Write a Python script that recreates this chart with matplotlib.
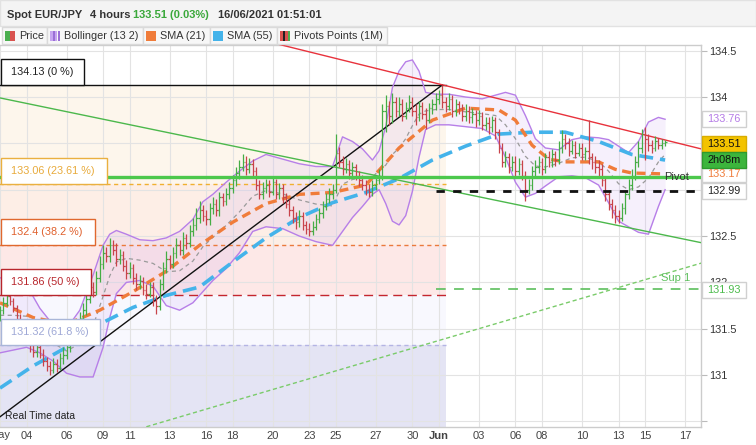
import matplotlib
matplotlib.use("Agg")
import matplotlib.pyplot as plt
import numpy as np
import pandas as pd
from matplotlib.patches import Rectangle

plt.rcParams['font.family'] = ['Liberation Sans', 'DejaVu Sans']
plt.rcParams['lines.scale_dashes'] = False

# ---------------- data (4-hour candles, EUR/JPY) ----------------
first_open = 131.62
close = [
    131.70,131.78,131.85,131.80,131.72,131.60,131.55,131.48,131.40,131.32,
    131.25,131.30,131.22,131.15,131.10,131.05,131.12,131.08,131.18,131.22,
    131.30,131.42,131.38,131.50,131.62,131.70,131.82,131.95,131.90,132.05,
    132.20,132.32,132.28,132.40,132.35,132.25,132.30,132.18,132.10,132.15,
    132.05,131.98,132.02,131.92,131.88,131.95,131.80,131.75,131.98,132.15,
    132.25,132.20,132.32,132.40,132.35,132.48,132.42,132.55,132.62,132.70,
    132.78,132.72,132.68,132.80,132.85,132.78,132.92,132.88,132.95,133.02,
    133.10,133.18,133.25,133.30,133.22,133.28,133.20,133.05,132.95,133.02,
    133.05,132.98,133.08,132.95,133.02,132.92,132.85,132.78,132.70,132.65,
    132.72,132.62,132.58,132.55,132.60,132.68,132.75,132.82,132.90,132.95,
    133.00,133.40,133.30,133.22,133.28,133.18,133.25,133.15,133.10,133.05,
    133.00,132.98,133.05,133.10,133.15,133.85,133.90,133.80,133.95,133.85,
    133.92,133.80,133.88,133.95,133.85,133.78,133.90,133.82,133.75,133.88,
    133.92,133.98,134.02,133.95,133.90,133.98,133.85,133.92,133.88,133.80,
    133.85,133.78,133.82,133.75,133.80,133.70,133.72,133.68,133.75,133.62,
    133.45,133.30,133.35,133.25,133.30,133.20,133.28,133.15,133.00,133.05,
    133.20,133.25,133.30,133.22,133.35,133.30,133.38,133.32,133.45,133.55,
    133.50,133.42,133.48,133.40,133.45,133.38,133.42,133.35,133.30,133.25,
    133.22,133.10,132.95,132.85,132.78,132.72,132.70,132.80,132.95,133.05,
    133.15,133.30,133.45,133.60,133.55,133.48,133.45,133.52,133.48,133.50,
    133.51]
high = [
    131.75,131.84,131.92,131.90,131.83,131.76,131.66,131.60,131.52,131.44,
    131.38,131.36,131.34,131.28,131.20,131.15,131.18,131.17,131.24,131.30,
    131.36,131.48,131.46,131.56,131.68,131.78,131.88,132.02,132.00,132.12,
    132.28,132.40,132.38,132.48,132.46,132.42,132.36,132.34,132.24,132.22,
    132.20,132.10,132.08,132.06,131.98,132.00,132.00,131.86,132.04,132.22,
    132.34,132.30,132.38,132.48,132.46,132.54,132.52,132.62,132.70,132.80,
    132.88,132.84,132.78,132.86,132.92,132.90,132.98,132.96,133.02,133.08,
    133.16,133.25,133.32,133.38,133.36,133.34,133.33,133.25,133.10,133.08,
    133.12,133.10,133.14,133.12,133.07,133.06,132.96,132.90,132.82,132.76,
    132.78,132.76,132.66,132.64,132.66,132.74,132.80,132.88,132.96,133.02,
    133.06,133.60,133.46,133.36,133.34,133.32,133.30,133.28,133.20,133.16,
    133.10,133.06,133.10,133.16,133.22,133.92,134.02,133.96,134.04,134.00,
    134.00,133.98,133.95,134.02,134.00,133.92,133.96,133.95,133.88,133.94,
    133.98,134.04,134.08,134.13,134.00,134.04,134.02,133.98,133.96,133.92,
    133.92,133.90,133.88,133.86,133.86,133.84,133.78,133.78,133.80,133.78,
    133.66,133.50,133.42,133.40,133.36,133.36,133.34,133.32,133.20,133.12,
    133.26,133.32,133.36,133.34,133.40,133.42,133.44,133.42,133.52,133.64,
    133.60,133.56,133.54,133.52,133.50,133.50,133.46,133.75,133.40,133.36,
    133.32,133.28,133.14,133.00,132.90,132.84,132.78,132.86,133.00,133.12,
    133.22,133.36,133.52,133.66,133.68,133.60,133.54,133.58,133.56,133.55,
    133.54]
low = [
    131.58,131.66,131.74,131.76,131.68,131.55,131.50,131.42,131.33,131.25,
    131.20,131.20,131.18,131.10,131.04,131.00,131.02,131.03,131.05,131.12,
    131.17,131.25,131.32,131.33,131.45,131.56,131.65,131.78,131.84,131.86,
    132.00,132.14,132.22,132.22,132.30,132.18,132.20,132.12,132.04,132.05,
    131.98,131.92,131.93,131.86,131.82,131.84,131.74,131.66,131.70,131.92,
    132.10,132.14,132.15,132.26,132.30,132.30,132.36,132.38,132.50,132.56,
    132.64,132.66,132.62,132.62,132.74,132.72,132.72,132.82,132.84,132.90,
    132.96,133.04,133.12,133.20,133.16,133.18,133.14,133.00,132.90,132.90,
    132.96,132.92,132.94,132.90,132.90,132.86,132.80,132.72,132.64,132.58,
    132.60,132.56,132.52,132.50,132.51,132.56,132.64,132.70,132.78,132.86,
    132.90,132.96,133.24,133.16,133.18,133.12,133.14,133.10,133.04,133.00,
    132.94,132.92,132.93,133.00,133.06,133.10,133.62,133.70,133.72,133.78,
    133.80,133.74,133.76,133.84,133.80,133.70,133.74,133.76,133.66,133.72,
    133.82,133.86,133.92,133.88,133.84,133.86,133.78,133.80,133.82,133.74,
    133.74,133.72,133.72,133.68,133.70,133.64,133.64,133.60,133.62,133.55,
    133.40,133.25,133.24,133.18,133.20,133.14,133.16,133.10,132.88,132.95,
    133.00,133.14,133.18,133.16,133.18,133.24,133.24,133.26,133.28,133.40,
    133.44,133.36,133.38,133.34,133.36,133.32,133.32,133.28,133.22,133.18,
    133.14,133.04,132.88,132.78,132.70,132.64,132.64,132.66,132.74,132.90,
    133.00,133.10,133.24,133.40,133.32,133.42,133.40,133.42,133.44,133.44,
    133.47]

# Bollinger (13, 2) read at candle indices
bb_idx = [0, 4, 8, 12, 16, 20, 24, 28, 31, 33, 35, 38, 42, 46, 50, 54, 58, 61, 64, 68,
          72, 76, 80, 85, 90, 95, 100, 103, 106, 109, 112, 114, 116, 118, 120, 122, 124,
          126, 128, 131, 135, 140, 145, 149, 152, 155, 158, 161, 164, 168, 172, 176, 180,
          183, 186, 189, 192, 195, 198, 200]
bb_upper = [132.05, 132.02, 131.97, 131.72, 131.54, 131.50, 131.70, 132.08, 132.40, 132.52,
            132.56, 132.52, 132.46, 132.45, 132.48, 132.55, 132.68, 132.87, 132.95, 133.08,
            133.20, 133.31, 133.38, 133.33, 133.28, 133.25, 133.25, 133.57, 133.52, 133.44,
            133.32, 133.42, 133.68, 134.10, 134.28, 134.38, 134.40, 134.28, 134.05, 134.03,
            134.03, 134.00, 133.98, 134.02, 134.05, 134.02, 133.80, 133.55, 133.45, 133.43,
            133.54, 133.57, 133.56, 133.54, 133.47, 133.40, 133.52, 133.73, 133.78, 133.76]
bb_lower = [131.24, 131.27, 131.30, 131.24, 131.15, 131.02, 130.98, 130.98, 131.30, 131.62,
            131.88, 132.00, 132.02, 131.96, 131.75, 131.70, 131.78, 131.90, 132.02, 132.15,
            132.32, 132.55, 132.60, 132.58, 132.50, 132.44, 132.40, 132.55, 132.70, 132.82,
            132.95, 133.00, 132.85, 132.66, 132.62, 132.72, 132.98, 133.35, 133.65, 133.70,
            133.70, 133.68, 133.66, 133.58, 133.35, 133.08, 132.92, 132.96, 133.04, 133.14,
            133.15, 133.13, 133.05, 132.86, 132.66, 132.60, 132.54, 132.52, 132.82, 133.00]

sma21_idx = [0, 10, 20, 30, 40, 50, 60, 70, 80, 90, 100, 110, 120, 130, 140, 150, 155, 160,
             165, 170, 180, 185, 190, 200]
sma21 = [131.78, 131.62, 131.55, 131.70, 131.90, 132.12, 132.40, 132.65, 132.85, 132.95,
         132.97, 133.05, 133.45, 133.75, 133.88, 133.86, 133.75, 133.48, 133.33, 133.30,
         133.30, 133.22, 133.18, 133.17]
sma55_idx = [0, 10, 20, 30, 40, 50, 60, 70, 80, 90, 100, 110, 120, 130, 140, 150, 160, 170,
             180, 190, 200]
sma55 = [130.86, 131.10, 131.30, 131.55, 131.73, 131.86, 131.95, 132.22, 132.48, 132.70,
         132.86, 132.97, 133.12, 133.32, 133.47, 133.60, 133.62, 133.62, 133.52, 133.38, 133.32]

fib_levels = [134.13, 133.06, 132.40, 131.86, 131.32]
fib_labels = ['134.13 (0 %)', '133.06 (23.61 %)', '132.4 (38.2 %)', '131.86 (50 %)', '131.32 (61.8 %)']
fib_end_idx = 134
pivot_level = 133.14
black_level = 132.99
sup1_level = 131.93
pivot_start_idx = 131

trend_up_idx, trend_up_val = [0, 133], [130.55, 134.13]
resist_idx, resist_val = [60, 212], [134.78, 133.43]
channel_idx, channel_val = [0, 212], [133.99, 132.42]
support_idx, support_val = [40, 212], [130.40, 132.22]

tick_dates = ['2021-05-02', '2021-05-04', '2021-05-06', '2021-05-09', '2021-05-11', '2021-05-13',
              '2021-05-16', '2021-05-18', '2021-05-20', '2021-05-23', '2021-05-25', '2021-05-27',
              '2021-05-30', '2021-06-01', '2021-06-03', '2021-06-06', '2021-06-08', '2021-06-10',
              '2021-06-13', '2021-06-15', '2021-06-17']
tick_labels = ['May', '04', '06', '09', '11', '13', '16', '18', '20', '23', '25', '27', '30',
               'Jun', '03', '06', '08', '10', '13', '15', '17']
ytick_vals = [130.5, 131, 131.5, 132, 132.5, 133, 133.5, 134, 134.5]
ytick_text = ['', '131', '131.5', '132', '132.5', '', '', '134', '134.5']

last_price = 133.51
bb_last = 133.76
sma21_last = 133.17
countdown = '2h08m'
title_parts = [('Spot EUR/JPY', '#333333'), ('4 hours', '#333333'),
               ('133.51 (0.03%)', '#3aa83a'), ('16/06/2021 01:51:01', '#333333')]
legend_names = ['Price', 'Bollinger (13 2)', 'SMA (21)', 'SMA (55)', 'Pivots Points (1M)']

# ---------------- calendar -> candle index ----------------
per_day = {6: 2, 0: 6, 1: 6, 2: 6, 3: 6, 4: 5, 5: 0}
day_start = {}
k = 0
for d in pd.date_range('2021-05-02', '2021-06-18', freq='D'):
    day_start[d.strftime('%Y-%m-%d')] = k
    k += per_day[d.weekday()]
tick_pos = [day_start[t] for t in tick_dates]

# ---------------- figure ----------------
W, H = 756, 445
fig = plt.figure(figsize=(W / 100, H / 100), dpi=100)
fig.patch.set_facecolor('white')
AX_L, AX_R, AX_T, AX_B = 0, 701, 45, 427
ax = fig.add_axes([AX_L / W, 1 - AX_B / H, (AX_R - AX_L) / W, (AX_B - AX_T) / H])
XMIN, XMAX = 0.66, 210.8
YMIN, YMAX = 130.44, 134.561
ax.set_xlim(XMIN, XMAX)
ax.set_ylim(YMIN, YMAX)

def fx(px):
    return px / W

def fy(py):
    return 1 - py / H

def py_of(v):
    return AX_T + (YMAX - v) / (YMAX - YMIN) * (AX_B - AX_T)

# fib zones
zone_colors = ['#fdf6ec', '#fdeee6', '#fde8e7', '#f8f8fe', '#e4e4f4']
bounds = fib_levels + [YMIN]
for i, c in enumerate(zone_colors):
    ax.fill_between([XMIN - 1, fib_end_idx], bounds[i + 1], bounds[i], color=c, lw=0, zorder=0)

# grid / ticks
ax.set_xticks(tick_pos)
ax.set_xticklabels(['' if l == 'May' else l for l in tick_labels])
for lbl in ax.get_xticklabels():
    if lbl.get_text() == 'Jun':
        lbl.set_fontweight('bold')
ax.set_yticks(ytick_vals)
ax.set_yticklabels(ytick_text)
ax.grid(True, color='#e3e3e3', lw=0.8)
ax.set_axisbelow(True)
ax.yaxis.tick_right()
ax.tick_params(axis='y', length=4, color='#bbbbbb', labelsize=7.8, labelcolor='#333333', pad=2)
ax.tick_params(axis='x', length=0, labelsize=8, labelcolor='#444444', pad=3)
ax.spines['left'].set_visible(False)
for s in ['right', 'bottom', 'top']:
    ax.spines[s].set_color('#cccccc')
    ax.spines[s].set_linewidth(1)
ax.text(0, -0.008, 'May', transform=ax.get_xaxis_transform(), ha='center', va='top',
        fontsize=8, color='#444444', clip_on=False)

# Bollinger
bb_mid = [(u + l) / 2 for u, l in zip(bb_upper, bb_lower)]
ax.fill_between(bb_idx, bb_lower, bb_upper, color='#c9a3f2', alpha=0.16, lw=0, zorder=1)
ax.plot(bb_idx, bb_upper, color='#b77fe8', lw=1, zorder=3)
ax.plot(bb_idx, bb_lower, color='#b77fe8', lw=1, zorder=3)
ax.plot(bb_idx, bb_mid, color='#9a9a9a', lw=0.9, dashes=(3, 2.5), zorder=3)

# fib lines
fib_colors = ['#111111', '#f0b030', '#ea7a3c', '#c4262e', '#b4b4e4']
fib_dash = [None, (3, 2.5), (3, 2.5), (6.5, 4), (3, 2.5)]
for lv, c, ds in zip(fib_levels, fib_colors, fib_dash):
    if ds is None:
        ax.plot([XMIN - 1, fib_end_idx], [lv, lv], color=c, lw=1, zorder=2)
    else:
        ax.plot([XMIN - 1, fib_end_idx], [lv, lv], color=c, lw=1, dashes=ds, zorder=2)

# SMAs
ax.plot(sma55_idx, sma55, color='#44b3ea', lw=2.6, dashes=(10, 5), zorder=4)
ax.plot(sma21_idx, sma21, color='#f07c3a', lw=2.4, dashes=(6.5, 4), zorder=4)

# trend lines
ax.plot(trend_up_idx, trend_up_val, color='#111111', lw=1, zorder=5)
ax.plot(resist_idx, resist_val, color='#e8323c', lw=1, zorder=5)
ax.plot(channel_idx, channel_val, color='#4cb84c', lw=1, zorder=5)
ax.plot(support_idx, support_val, color='#7acb6a', lw=1, dashes=(3, 2), zorder=5)

# pivots
ax.axhline(pivot_level, color='#4cc84c', lw=2.4, zorder=7)
ax.plot([pivot_start_idx, XMAX + 1], [black_level] * 2, color='#111111', lw=2, dashes=(6, 6), zorder=7)
ax.plot([pivot_start_idx, XMAX + 1], [sup1_level] * 2, color='#5cbf5c', lw=1.2, dashes=(7, 6), zorder=7)
ax.text(199.8, pivot_level - 0.005, 'Pivot', fontsize=8, color='#333333', va='center', ha='left', zorder=8)
ax.text(198.8, sup1_level + 0.06, 'Sup 1', fontsize=8, color='#5cbf5c', va='bottom', ha='left', zorder=8)

# price bars
opens = [first_open] + close[:-1]
xs = np.arange(len(close))
for i in range(len(close)):
    col = '#45ad45' if close[i] >= opens[i] else '#c8434a'
    ax.vlines(xs[i], low[i], high[i], color=col, lw=0.9, zorder=6)
    ax.hlines(opens[i], xs[i] - 0.45, xs[i], color=col, lw=0.9, zorder=6)
    ax.hlines(close[i], xs[i], xs[i] + 0.45, color=col, lw=0.9, zorder=6)

# ---------------- overlays in pixel space ----------------
def box(x0, y0, x1, y1, fc, ec, lw=1, z=10):
    fig.patches.append(Rectangle((fx(x0), fy(y1)), fx(x1 - x0), (y1 - y0) / H,
                                 transform=fig.transFigure, facecolor=fc, edgecolor=ec,
                                 lw=lw, zorder=z))

# fib label boxes (bottom on level)
fib_box_w = [84, 107, 95, 91, 100]
fib_text_col = ['#222222', '#e8aa3a', '#e0602c', '#b8262c', '#9ea8d6']
fib_edge_col = ['#111111', '#eab040', '#e0682e', '#b8262c', '#a9b6d8']
for lv, lab, w, tc, ec in zip(fib_levels, fib_labels, fib_box_w, fib_text_col, fib_edge_col):
    yb = py_of(lv)
    box(1, yb - 26, w, yb, 'white', ec, lw=1, z=10)
    fig.text(fx(11), fy(yb - 13), lab, fontsize=7.8, color=tc, va='center', ha='left', zorder=11)

fig.text(fx(5), fy(416), 'Real Time data', fontsize=7.5, color='#222222', va='center', ha='left', zorder=11)

# right-hand value boxes
def rlabel(ycen, txt, fc, ec, tc, h=16):
    box(702, ycen - h / 2, 746, ycen + h / 2, fc, ec, lw=1, z=12)
    fig.text(fx(707), fy(ycen), txt, fontsize=7.8, color=tc, va='center', ha='left', zorder=13)

rlabel(py_of(bb_last), f'{bb_last:.2f}', 'white', '#d0d0d0', '#b57be6')
rlabel(py_of(sma21_last), f'{sma21_last:.2f}', 'white', '#d0d0d0', '#f07c3a')
yp = py_of(last_price) + 2
rlabel(yp, f'{last_price:.2f}', '#f3c300', '#d9ad00', '#111111')
rlabel(yp + 16, countdown, '#3cb53c', '#2e9a2e', '#111111')
rlabel(py_of(black_level), f'{black_level:.2f}', 'white', '#d0d0d0', '#222222')
rlabel(py_of(sup1_level) + 1, f'{sup1_level:.2f}', 'white', '#d0d0d0', '#4cbb4c')

# ---------------- header ----------------
box(0, 0, 756, 26, '#f4f4f4', '#e2e2e2', lw=1, z=1)
title_x = [7, 90, 133, 218]
for (t, c), x in zip(title_parts, title_x):
    fig.text(fx(x), fy(15), t, fontsize=8, fontweight='bold', color=c, va='center', ha='left')

leg_edges = [2, 47, 143, 210, 277, 387]
for j, name in enumerate(legend_names):
    x0, x1 = leg_edges[j], leg_edges[j + 1]
    box(x0, 27, x1, 44, '#f7f7f7', '#dadada', lw=1, z=2)
    sx = x0 + 3
    if j == 0:
        box(sx, 31, sx + 5, 41, '#4caf50', 'none', lw=0, z=3)
        box(sx + 5, 31, sx + 10, 41, '#d9534f', 'none', lw=0, z=3)
    elif j == 1:
        for q, c in enumerate(['#c7a6f0', '#9b6fd6', '#c7a6f0', '#9b6fd6']):
            box(sx + q * 2.5, 31, sx + q * 2.5 + 2.5, 41, c, 'none', lw=0, z=3)
    elif j == 2:
        box(sx, 31, sx + 10, 41, '#f07c3a', 'none', lw=0, z=3)
    elif j == 3:
        box(sx, 31, sx + 10, 41, '#44b3ea', 'none', lw=0, z=3)
    else:
        for q, c in enumerate(['#d9534f', '#222222', '#d9534f', '#4caf50']):
            box(sx + q * 2.5, 31, sx + q * 2.5 + 2.5, 41, c, 'none', lw=0, z=3)
    fig.text(fx(sx + 14), fy(36), name, fontsize=7.8, color='#333333', va='center', ha='left', zorder=4)

fig.savefig('out.png', dpi=100)
